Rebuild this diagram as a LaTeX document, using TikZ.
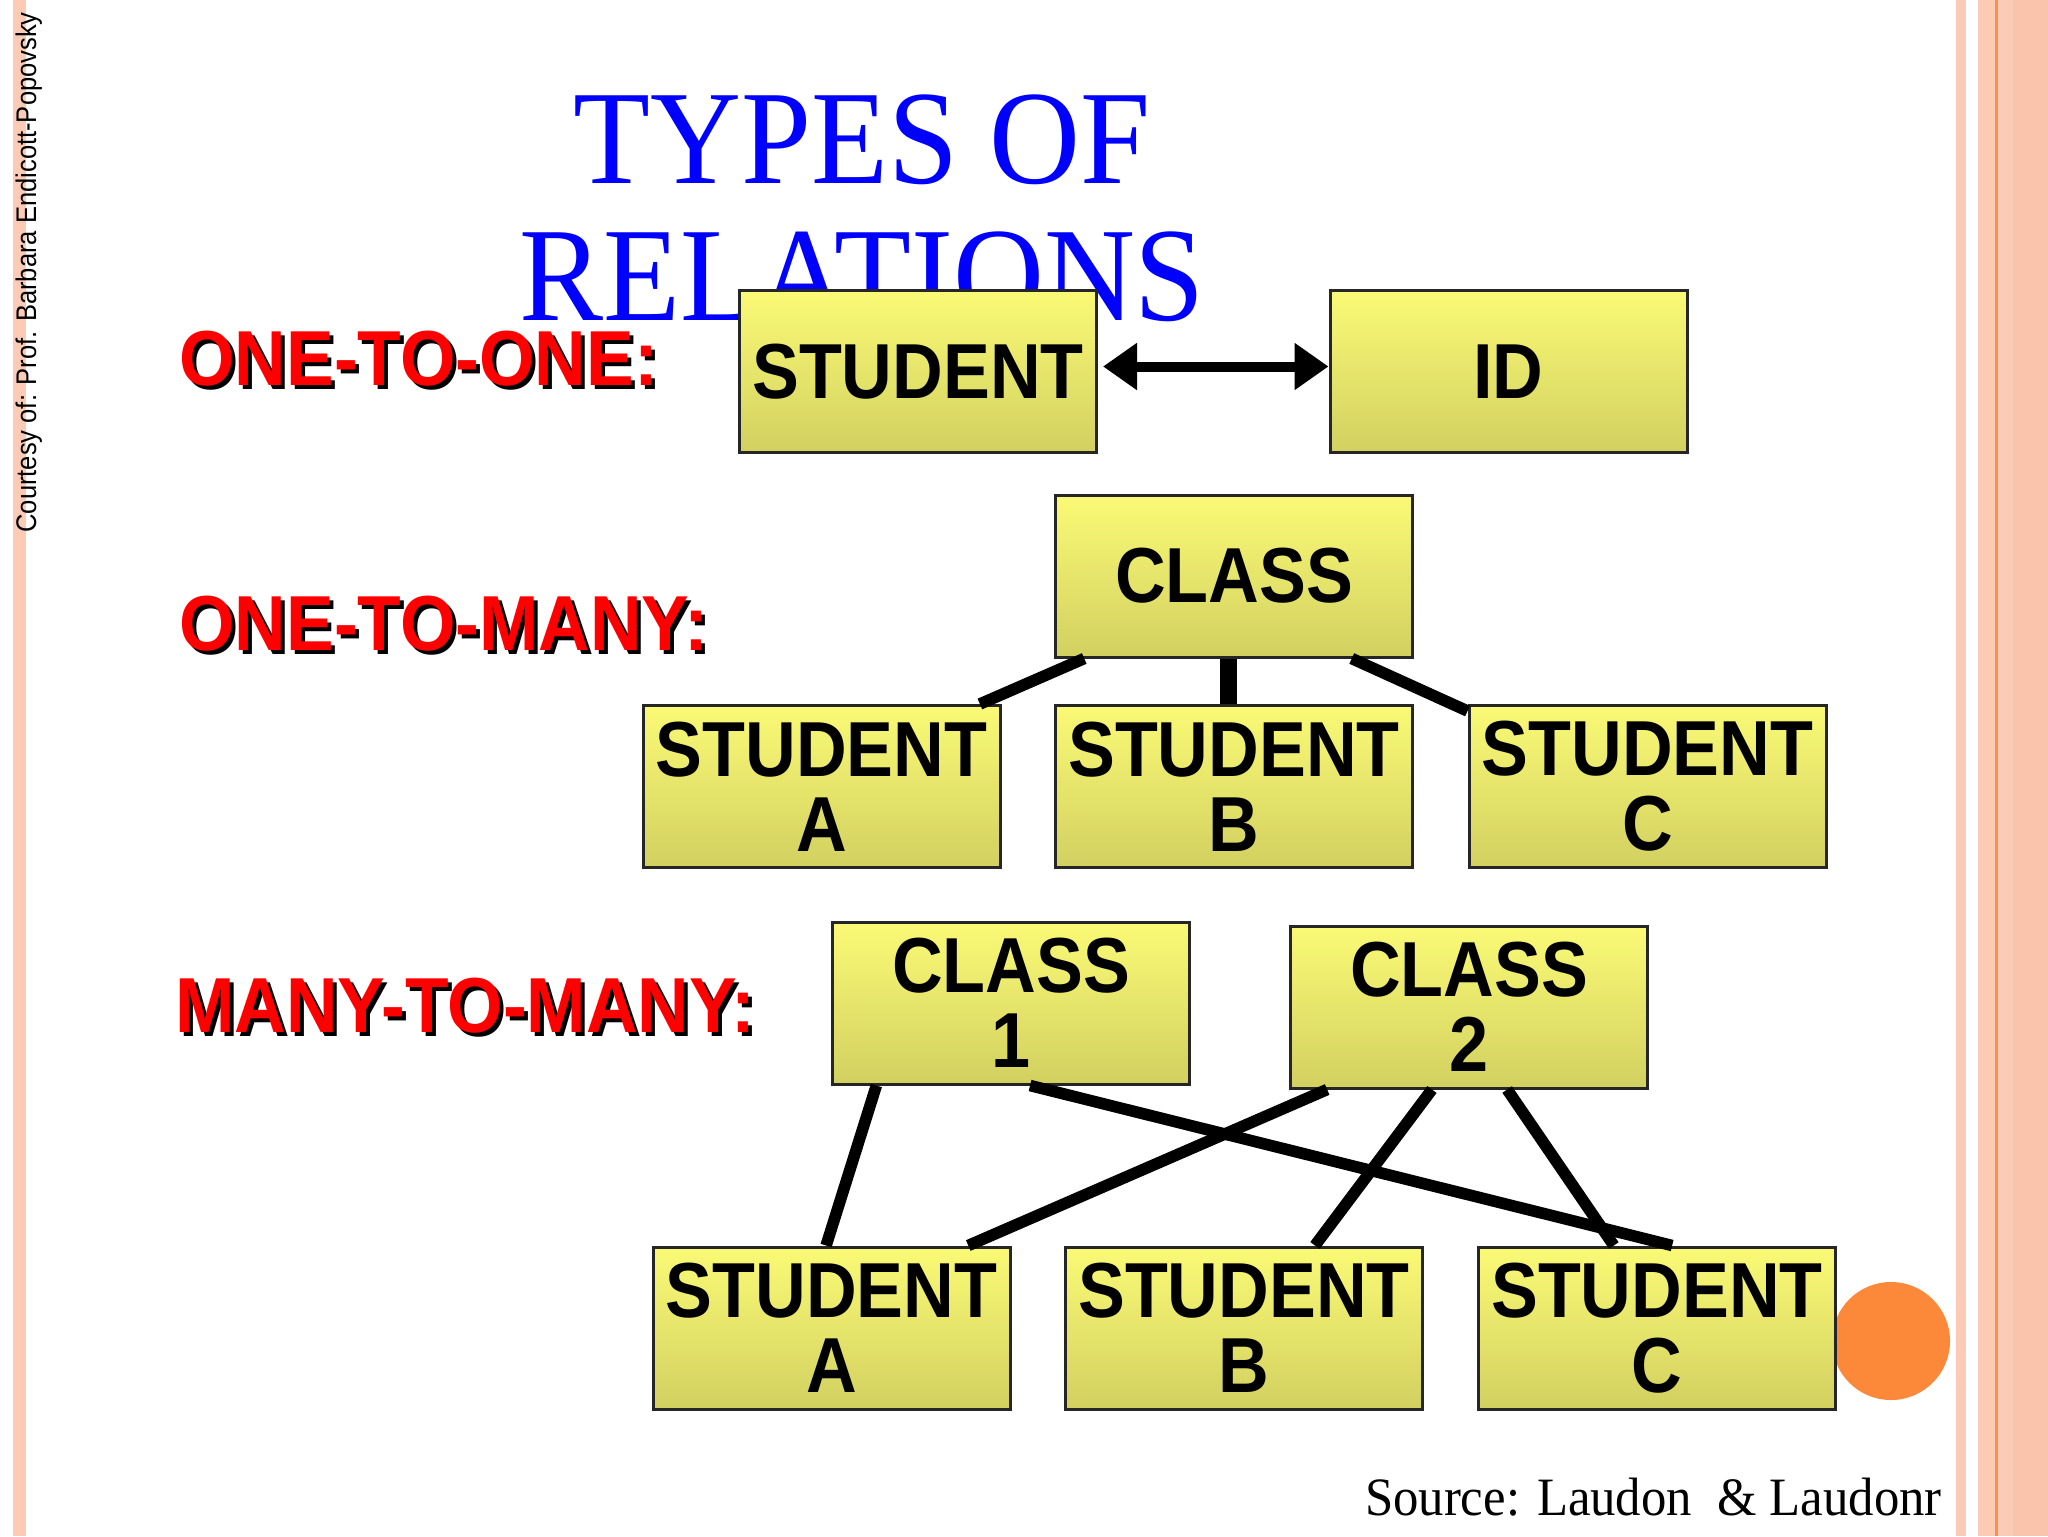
\documentclass[tikz,border=0pt]{standalone}
\usepackage{fontspec}
\usetikzlibrary{arrows.meta,calc}

\newfontfamily\sansnarrow[FakeStretch=0.9]{Liberation Sans}
\newfontfamily\labelnarrow[FakeStretch=0.915]{Liberation Sans}
\newfontfamily\serifnarrow[FakeStretch=0.94]{Liberation Serif}

\definecolor{peach}{RGB}{251,203,182}
\definecolor{peachdark}{RGB}{250,196,172}
\definecolor{stripeline}{RGB}{246,146,80}
\definecolor{dotorange}{RGB}{252,137,57}
\definecolor{boxtop}{RGB}{250,250,118}
\definecolor{boxbottom}{RGB}{210,208,96}
\definecolor{titleblue}{RGB}{0,0,255}

\begin{document}
\begin{tikzpicture}[x=0.5pt, y=-0.5pt,
  entity/.style={rectangle, draw=black!85, line width=1.5pt,
    top color=boxtop, bottom color=boxbottom,
    minimum width=178.5pt, minimum height=81pt, inner sep=0pt, align=center,
    font=\sansnarrow\bfseries\fontsize{39}{37.5}\selectfont},
  kind/.style={anchor=base west, inner sep=0pt,
    font=\labelnarrow\bfseries\fontsize{39}{40}\selectfont},
  link/.style={line width=5.8pt}]
  \useasboundingbox (0,0) rectangle (2048,1536);
  \fill[white] (0,0) rectangle (2048,1536);
  % Page frame
  \fill[peach] (13,0) rectangle (26,1536);
  \fill[peach] (1956,0) rectangle (1966,1536);
  \fill[peach] (1978,0) rectangle (2048,1536);
  \fill[peachdark] (2013,0) rectangle (2048,1536);
  \fill[stripeline] (1995,0) rectangle (1998,1536);
  \fill[dotorange] (1891,1341) circle[radius=29.5pt];
  \node[rotate=90, anchor=base west, inner sep=0pt,
    font=\sansnarrow\fontsize{14.2}{16}\selectfont] (credit) at (36,533)
    {Courtesy of: Prof. Barbara Endicott-Popovsky};
  \node[anchor=base east, inner sep=0pt,
    font=\serifnarrow\fontsize{27}{30}\selectfont] (source) at (1942,1515)
    {Source: Laudon \ \& Laudonr};
  % Title
  \node[anchor=base, inner sep=0pt, text=titleblue,
    font=\serifnarrow\fontsize{67}{68}\selectfont] (title1) at (862,183) {TYPES OF};
  \node[anchor=base, inner sep=0pt, text=titleblue,
    font=\serifnarrow\fontsize{67}{68}\selectfont] (title2) at (862,320) {RELATIONS};
  % Row labels
  \node[kind, black] (onetoones) at (183,389) {ONE-TO-ONE:};
  \node[kind, red] (onetoone) at (179,385) {ONE-TO-ONE:};
  \node[kind, black] (onetomanys) at (183,654) {ONE-TO-MANY:};
  \node[kind, red] (onetomany) at (179,650) {ONE-TO-MANY:};
  \node[kind, black] (manytomanys) at (179,1036) {MANY-TO-MANY:};
  \node[kind, red] (manytomany) at (175,1032) {MANY-TO-MANY:};
  % One-to-one
  \node[entity] (stu) at (918,371.5) {STUDENT};
  \node[entity] (id) at (1508.5,371.5) {ID};
  \draw[line width=5pt, {Triangle[length=17pt,width=22.5pt]}-{Triangle[length=17pt,width=22.5pt]},
    shorten <=2.5pt] ([yshift=2.5pt]stu.east) -- ([yshift=2.5pt]id.west);
  % One-to-many
  \node[entity] (cls) at (1234,576) {CLASS};
  \node[entity] (sa1) at (821.5,786.5) {STUDENT\\A};
  \node[entity] (sb1) at (1234,786.5) {STUDENT\\B};
  \node[entity] (sc1) at (1647.5,786.5) {STUDENT\\C};
  \draw[link] ($(cls.south west)!0.084!(cls.south east)$) -- ($(sa1.north west)!0.94!(sa1.north east)$);
  \draw[line width=8.5pt] ($(cls.south west)!0.484!(cls.south east)$) -- ($(sb1.north west)!0.484!(sb1.north east)$);
  \draw[link] ($(cls.south west)!0.827!(cls.south east)$) -- ([yshift=-3.5pt]sc1.north west);
  % Many-to-many
  \node[entity] (c1) at (1011,1003) {CLASS\\1};
  \node[entity] (c2) at (1469,1007) {CLASS\\2};
  \node[entity] (sa2) at (831.5,1328) {STUDENT\\A};
  \node[entity] (sb2) at (1244,1328) {STUDENT\\B};
  \node[entity] (sc2) at (1657,1328) {STUDENT\\C};
  \draw[link] ($(c1.south west)!0.126!(c1.south east)$) -- ($(sa2.north west)!0.485!(sa2.north east)$);
  \draw[link] ($(c1.south west)!0.553!(c1.south east)$) -- ($(sc2.north west)!0.542!(sc2.north east)$);
  \draw[link] ($(c2.south west)!0.106!(c2.south east)$) -- ($(sa2.north west)!0.88!(sa2.north east)$);
  \draw[link] ($(c2.south west)!0.397!(c2.south east)$) -- ($(sb2.north west)!0.697!(sb2.north east)$);
  \draw[link] ($(c2.south west)!0.606!(c2.south east)$) -- ($(sc2.north west)!0.38!(sc2.north east)$);
\end{tikzpicture}
\end{document}
